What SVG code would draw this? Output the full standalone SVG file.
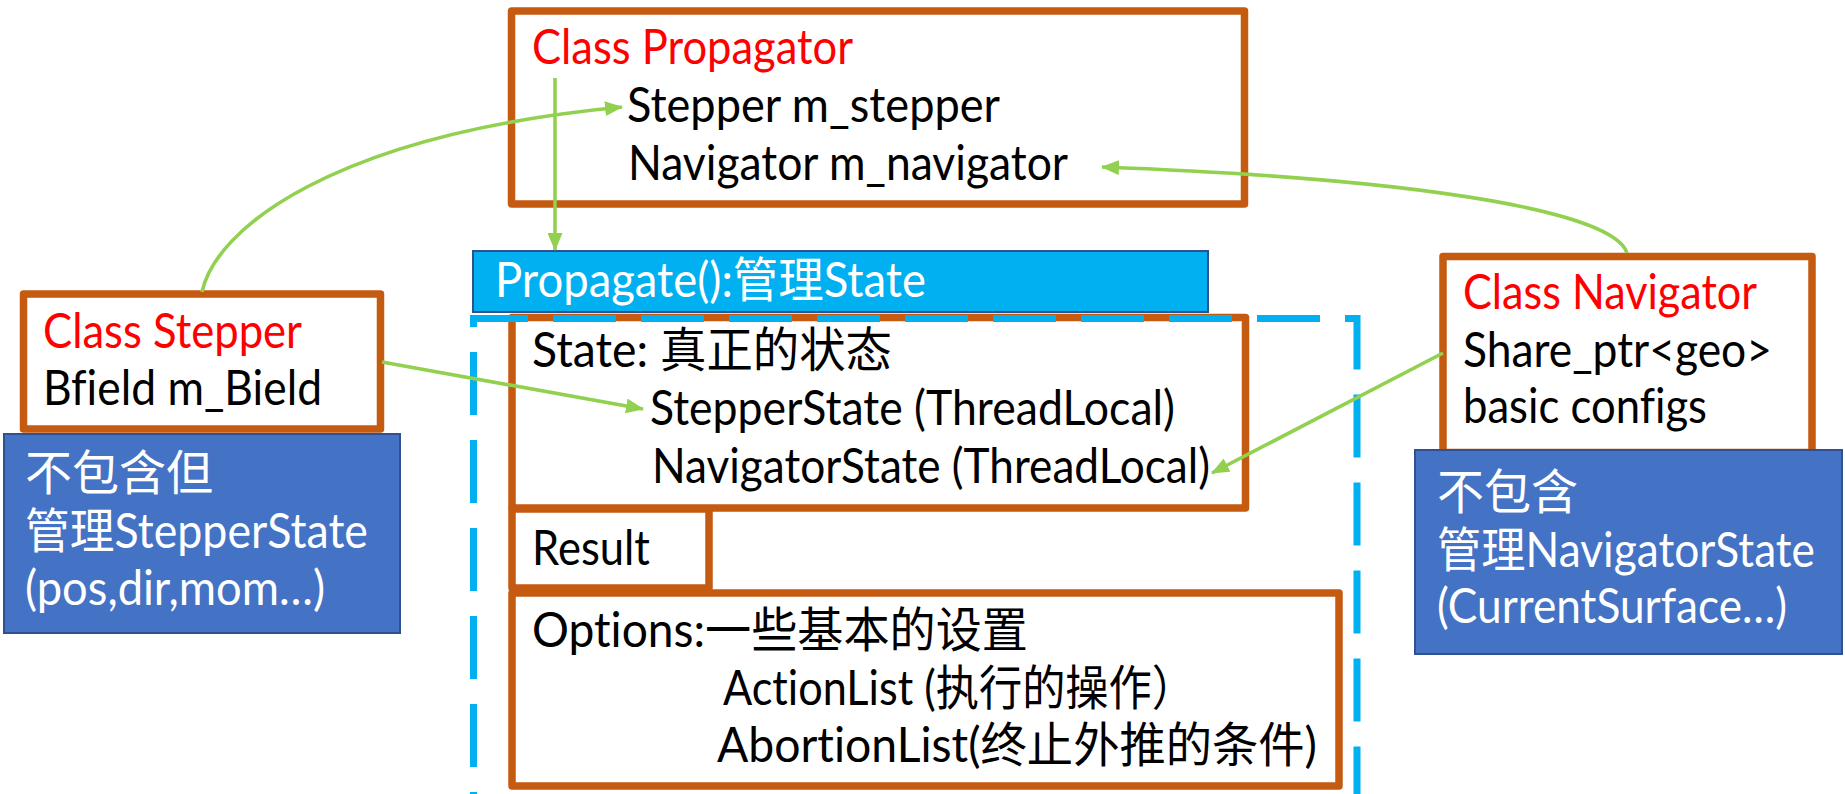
<svg xmlns="http://www.w3.org/2000/svg" width="1845" height="794" viewBox="0 0 1845 794">
<defs>
<style>
.box{fill:#FFFFFF;stroke:#C55A11;stroke-width:7.5;stroke-linejoin:round}
.note{fill:#4472C4;stroke:#2F528F;stroke-width:2}
.bar{fill:#00B0F0;stroke:#2F528F;stroke-width:2}
.dash{fill:none;stroke:#00B0F0;stroke-width:7;stroke-dasharray:63 25;stroke-dashoffset:61}
.conn{fill:none;stroke:#92D050;stroke-width:3.6}
text{font-family:Lato,"Noto Sans CJK SC","Noto Sans",sans-serif;font-size:48px;font-variant-ligatures:none}
.k{fill:#000000}
.r{fill:#FF0000}
.w{fill:#FFFFFF}
</style>
<marker id="ah" viewBox="0 0 18 15" refX="17" refY="7.5" markerWidth="18" markerHeight="15" markerUnits="userSpaceOnUse" orient="auto">
<path d="M0,0 L18,7.5 L0,15 z" fill="#92D050"/>
</marker>
</defs>
<rect width="1845" height="794" fill="#FFFFFF"/>

<g id="propagator">
<rect class="box" x="511.5" y="11" width="733" height="193"/>
<text class="r" x="532" y="64" textLength="321" lengthAdjust="spacingAndGlyphs">Class Propagator</text>
<text class="k" x="627" y="122" textLength="373" lengthAdjust="spacingAndGlyphs">Stepper m_stepper</text>
<text class="k" x="628" y="180" textLength="440" lengthAdjust="spacingAndGlyphs">Navigator m_navigator</text>
</g>

<g id="stepper">
<rect class="box" x="23.5" y="294" width="357" height="135"/>
<text class="r" x="43" y="348" textLength="259" lengthAdjust="spacingAndGlyphs">Class Stepper</text>
<text class="k" x="43" y="405" textLength="279" lengthAdjust="spacingAndGlyphs">Bfield m_Bield</text>
</g>

<g id="stepper-note">
<rect class="note" x="4" y="434" width="396" height="199"/>
<text class="w" x="25" y="490" textLength="188" lengthAdjust="spacingAndGlyphs">不包含但</text>
<text class="w" x="25" y="548" textLength="343" lengthAdjust="spacingAndGlyphs">管理StepperState</text>
<text class="w" x="25" y="605" textLength="300" lengthAdjust="spacingAndGlyphs">(pos,dir,mom…)</text>
</g>

<g id="navigator">
<rect class="box" x="1443" y="256.5" width="369" height="196"/>
<text class="r" x="1463" y="309" textLength="294" lengthAdjust="spacingAndGlyphs">Class Navigator</text>
<text class="k" x="1463" y="367" textLength="309" lengthAdjust="spacingAndGlyphs">Share_ptr&lt;geo&gt;</text>
<text class="k" x="1463" y="423" textLength="244" lengthAdjust="spacingAndGlyphs">basic configs</text>
</g>

<g id="navigator-note">
<rect class="note" x="1415" y="450" width="427" height="204"/>
<text class="w" x="1437" y="509" textLength="141" lengthAdjust="spacingAndGlyphs">不包含</text>
<text class="w" x="1437" y="567" textLength="378" lengthAdjust="spacingAndGlyphs">管理NavigatorState</text>
<text class="w" x="1437" y="623" textLength="350" lengthAdjust="spacingAndGlyphs">(CurrentSurface…)</text>
</g>

<g id="propagate">
<rect class="bar" x="473" y="251" width="735" height="61"/>
<text class="w" x="495" y="297" textLength="431" lengthAdjust="spacingAndGlyphs">Propagate():管理State</text>
</g>

<g id="state">
<rect class="box" x="512" y="317.5" width="733.5" height="190.5"/>
<text class="k" x="532" y="367" textLength="360" lengthAdjust="spacingAndGlyphs">State: 真正的状态</text>
<text class="k" x="650" y="425" textLength="525" lengthAdjust="spacingAndGlyphs">StepperState (ThreadLocal)</text>
<text class="k" x="652" y="483" textLength="558" lengthAdjust="spacingAndGlyphs">NavigatorState (ThreadLocal)</text>
</g>

<g id="result">
<rect class="box" x="512" y="509" width="197" height="79"/>
<text class="k" x="532" y="565" textLength="118" lengthAdjust="spacingAndGlyphs">Result</text>
</g>

<g id="options">
<rect class="box" x="512" y="593" width="827" height="193"/>
<text class="k" x="532" y="647" textLength="496" lengthAdjust="spacingAndGlyphs">Options:一些基本的设置</text>
<text class="k" x="723" y="705" textLength="472" lengthAdjust="spacingAndGlyphs">ActionList (执行的操作）</text>
<text class="k" x="717" y="762" textLength="600" lengthAdjust="spacingAndGlyphs">AbortionList(终止外推的条件)</text>
</g>

<g id="thread-local-frame">
<path class="dash" d="M473.5,794 V318.5 H1357 V794"/>
</g>

<g id="connectors">
<path class="conn" marker-end="url(#ah)" d="M555,78 V250"/>
<path class="conn" marker-end="url(#ah)" d="M202,292 C215,230 330,135 622,107"/>
<path class="conn" marker-end="url(#ah)" d="M1627,253 C1615,215 1450,180 1102,167"/>
<path class="conn" marker-end="url(#ah)" d="M382,362 L643,409"/>
<path class="conn" marker-end="url(#ah)" d="M1443,353 L1212,473"/>
</g>
</svg>
